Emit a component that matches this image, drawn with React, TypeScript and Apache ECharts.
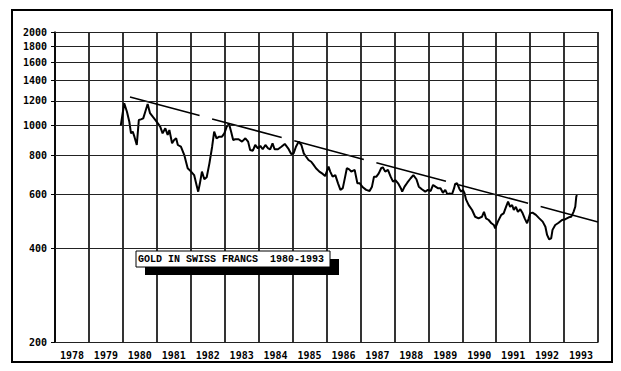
import React, { useEffect, useRef } from "react";
import * as echarts from "echarts";

const years = ["1978","1979","1980","1981","1982","1983","1984","1985","1986","1987","1988","1989","1990","1991","1992","1993"];
const yTicks = [200, 400, 600, 800, 1000, 1200, 1400, 1600, 1800, 2000];

const goldDates = [
  1979.94,1980.04,1980.12,1980.19,1980.24,1980.29,1980.34,1980.41,1980.47,1980.53,1980.60,1980.66,1980.73,1980.80,1980.88,1980.96,
  1981.03,1981.10,1981.17,1981.25,1981.32,1981.37,1981.45,1981.51,1981.57,1981.62,1981.71,1981.81,1981.86,1981.91,
  1982.01,1982.10,1982.17,1982.22,1982.27,1982.33,1982.40,1982.47,1982.55,1982.63,1982.69,1982.76,1982.84,1982.92,1982.99,
  1983.06,1983.13,1983.19,1983.25,1983.31,1983.41,1983.51,1983.61,1983.69,1983.75,1983.83,1983.90,1983.98,
  1984.05,1984.12,1984.20,1984.28,1984.34,1984.41,1984.47,1984.57,1984.67,1984.77,1984.87,1984.96,
  1985.03,1985.10,1985.18,1985.26,1985.33,1985.40,1985.47,1985.55,1985.62,1985.69,1985.79,1985.89,1985.96,
  1986.06,1986.11,1986.18,1986.26,1986.34,1986.41,1986.48,1986.55,1986.60,1986.67,1986.73,1986.83,1986.91,1986.98,
  1987.07,1987.17,1987.27,1987.34,1987.40,1987.47,1987.54,1987.61,1987.66,1987.73,1987.81,1987.89,1987.96,
  1988.03,1988.11,1988.19,1988.23,1988.30,1988.38,1988.48,1988.56,1988.65,1988.72,1988.81,1988.91,1988.99,
  1989.07,1989.14,1989.21,1989.28,1989.36,1989.43,1989.50,1989.56,1989.63,1989.70,1989.76,1989.79,1989.85,1989.92,1989.97,
  1990.02,1990.07,1990.11,1990.19,1990.29,1990.38,1990.48,1990.58,1990.64,1990.70,1990.78,1990.86,1990.93,1990.97,
  1991.05,1991.15,1991.22,1991.29,1991.35,1991.41,1991.47,1991.52,1991.58,1991.64,1991.71,1991.78,1991.84,1991.91,1991.96,
  1992.00,1992.07,1992.17,1992.27,1992.37,1992.45,1992.50,1992.56,1992.62,1992.66,1992.74,1992.84,1992.94,
  1993.04,1993.14,1993.21,1993.28,1993.33,1993.36,1993.38
];
const goldValues = [
  1002,1178,1106,1027,942,954,919,864,1040,1045,1053,1106,1172,1094,1066,1040,
  1015,990,942,978,931,966,875,897,908,864,853,802,763,727,
  709,691,642,611,650,709,670,680,754,853,954,908,919,919,942,
  990,1010,954,897,902,902,886,908,886,833,828,864,843,
  858,837,864,843,837,875,837,837,853,871,843,808,
  812,853,886,864,812,792,773,763,745,727,709,697,686,
  736,709,683,691,650,619,627,683,727,721,709,718,650,650,
  631,619,614,634,683,683,700,727,732,709,718,683,658,
  666,650,627,611,634,653,675,691,670,634,622,611,619,
  614,642,634,627,627,606,619,600,603,600,627,647,650,622,611,
  619,603,577,553,533,507,501,507,526,501,495,483,477,465,
  489,514,520,546,567,546,553,533,546,526,536,520,501,483,501,
  520,523,514,501,489,471,443,429,432,460,477,485,495,
  498,505,507,526,546,589,596
];
const trendDates = [1980.21, 1994.0];
const trendValues = [1234, 488];
const titleText = "GOLD IN SWISS FRANCS  1980-1993";

export default function App() {
  const ref = useRef<HTMLDivElement>(null);
  useEffect(() => {
    if (!ref.current) return;
    const chart = echarts.init(ref.current, null, { renderer: "svg" });
    const gold = goldDates.map((d, i) => [d, goldValues[i]]);
    const trend = trendDates.map((d, i) => [d, trendValues[i]]);
    const mono = "'DejaVu Sans Mono', monospace";
    chart.setOption({
      animation: false,
      backgroundColor: "#ffffff",
      grid: { left: 55, top: 32, right: 23, bottom: 29, containLabel: false },
      xAxis: [
        {
          type: "category",
          data: years,
          boundaryGap: true,
          axisLine: { show: true, lineStyle: { color: "#000", width: 1.2 } },
          axisTick: { show: false },
          axisLabel: { interval: 0, color: "#000", fontFamily: mono, fontWeight: "bold", fontSize: 10, margin: 8 },
          splitLine: { show: true, interval: 0, lineStyle: { color: "#000", width: 1.6 } },
        },
        { type: "value", min: 1978, max: 1994, show: false },
      ],
      yAxis: {
        type: "log",
        logBase: 10,
        min: 200,
        max: 2000,
        axisLine: { show: true, lineStyle: { color: "#000", width: 1.6 } },
        axisTick: { show: true, customValues: yTicks, length: 4, lineStyle: { color: "#000" } },
        axisLabel: {
          customValues: yTicks,
          formatter: (v: number) => String(Math.round(v)),
          color: "#000",
          fontFamily: mono,
          fontWeight: "bold",
          fontSize: 10,
          margin: 8,
        },
        splitLine: { show: false },
      },
      series: [
        {
          type: "line",
          xAxisIndex: 1,
          data: gold,
          showSymbol: false,
          symbol: "none",
          lineStyle: { color: "#000", width: 2 },
          silent: true,
          markLine: {
            silent: true,
            symbol: ["none", "none"],
            label: { show: false },
            lineStyle: { color: "#222", width: 1, type: "solid" },
            data: yTicks.map((v) => ({ yAxis: v })),
          },
        },
        {
          type: "line",
          xAxisIndex: 1,
          data: trend,
          showSymbol: false,
          symbol: "none",
          lineStyle: { color: "#000", width: 1.5, type: [72, 13] },
          silent: true,
        },
      ],
      graphic: [
        { type: "rect", shape: { x: 12, y: 10, width: 600, height: 352 }, style: { fill: "none", stroke: "#000", lineWidth: 2 }, z: 100 },
        { type: "rect", shape: { x: 145, y: 259, width: 194, height: 16 }, style: { fill: "#000" }, z: 100 },
        { type: "rect", shape: { x: 136, y: 251, width: 194, height: 16 }, style: { fill: "#fff", stroke: "#000", lineWidth: 1 }, z: 101 },
        {
          type: "text",
          x: 138,
          y: 259,
          z: 102,
          style: {
            text: titleText,
            fill: "#000",
            fontFamily: "'Liberation Mono', 'Courier New', monospace",
            fontWeight: "bold",
            fontSize: 10,
            verticalAlign: "middle",
          },
        },
      ],
    });
    return () => chart.dispose();
  }, []);
  return <div ref={ref} style={{ position: "fixed", left: 0, top: 0, width: 621, height: 371, background: "#fff" }} />;
}
